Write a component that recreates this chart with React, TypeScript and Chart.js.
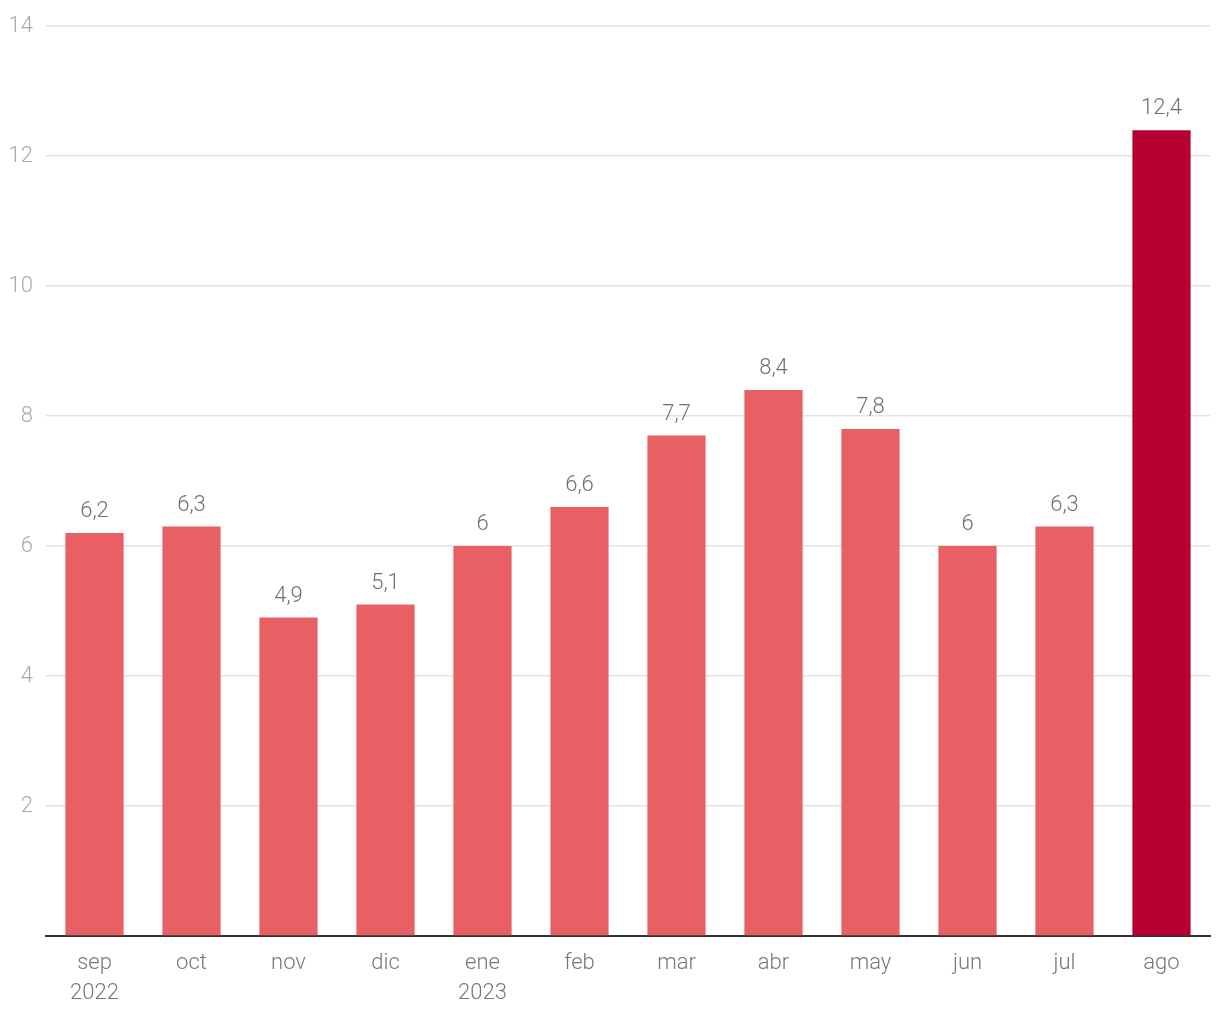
import React, { useEffect, useRef } from "react";
import { Chart, registerables } from "chart.js";

Chart.register(...registerables);

const months: (string | string[])[] = [
  ["sep", "2022"], "oct", "nov", "dic", ["ene", "2023"], "feb", "mar", "abr", "may", "jun", "jul", "ago",
];
const values: number[] = [6.2, 6.3, 4.9, 5.1, 6, 6.6, 7.7, 8.4, 7.8, 6, 6.3, 12.4];
const highlightIndex = 11;
const yTicks: number[] = [0, 2, 4, 6, 8, 10, 12, 14];

const FONT = "Roboto, 'Noto Sans', sans-serif";

const valueLabels = {
  id: "valueLabels",
  afterDatasetsDraw(chart: any) {
    const ctx = chart.ctx;
    const meta = chart.getDatasetMeta(0);
    ctx.save();
    ctx.font = `300 22px ${FONT}`;
    ctx.fillStyle = "#707070";
    ctx.textAlign = "center";
    ctx.textBaseline = "alphabetic";
    meta.data.forEach((bar: any, i: number) => {
      const v = values[i];
      ctx.fillText(String(v).replace(".", ","), bar.x, bar.y - 16);
    });
    ctx.restore();
  },
};

export default function App() {
  const ref = useRef<HTMLCanvasElement>(null);
  useEffect(() => {
    document.body.style.margin = "0";
    const chart = new Chart(ref.current!, {
      type: "bar",
      data: {
        labels: months,
        datasets: [
          {
            data: values,
            backgroundColor: values.map((_, i) => (i === highlightIndex ? "#b80030" : "#e86063")),
            barPercentage: 1,
            categoryPercentage: 0.6,
          },
        ],
      },
      options: {
        animation: false,
        responsive: false,
        maintainAspectRatio: false,
        layout: { padding: { top: 26, right: 10, left: 0, bottom: 0 } },
        plugins: { legend: { display: false }, tooltip: { enabled: false } },
        scales: {
          x: {
            grid: { display: false, drawTicks: false },
            border: { display: true, color: "#333333", width: 2 },
            ticks: {
              color: "#777777",
              font: { family: FONT, size: 22, weight: "300" as any, lineHeight: 1.36 },
              padding: 13,
              maxRotation: 0,
              autoSkip: false,
            },
            afterFit: (scale: any) => {
              scale.height = 84;
            },
          },
          y: {
            min: 0,
            max: 14,
            afterBuildTicks: (scale: any) => {
              scale.ticks = yTicks.map((v) => ({ value: v }));
            },
            grid: { color: "#e3e3e3", lineWidth: 1.5, drawTicks: false },
            border: { display: false },
            ticks: {
              color: "#aaaaaa",
              font: { family: FONT, size: 22, weight: "300" as any },
              padding: 13,
              callback: (v: any) => (v === 0 ? "" : String(v)),
            },
            afterFit: (scale: any) => {
              scale.width = 46;
            },
          },
        },
      },
      plugins: [valueLabels],
    });
    return () => chart.destroy();
  }, []);
  return (
    <div style={{ width: 1220, height: 1020, position: "relative", background: "#fff" }}>
      <canvas ref={ref} width={1220} height={1020} style={{ display: "block" }} />
    </div>
  );
}
